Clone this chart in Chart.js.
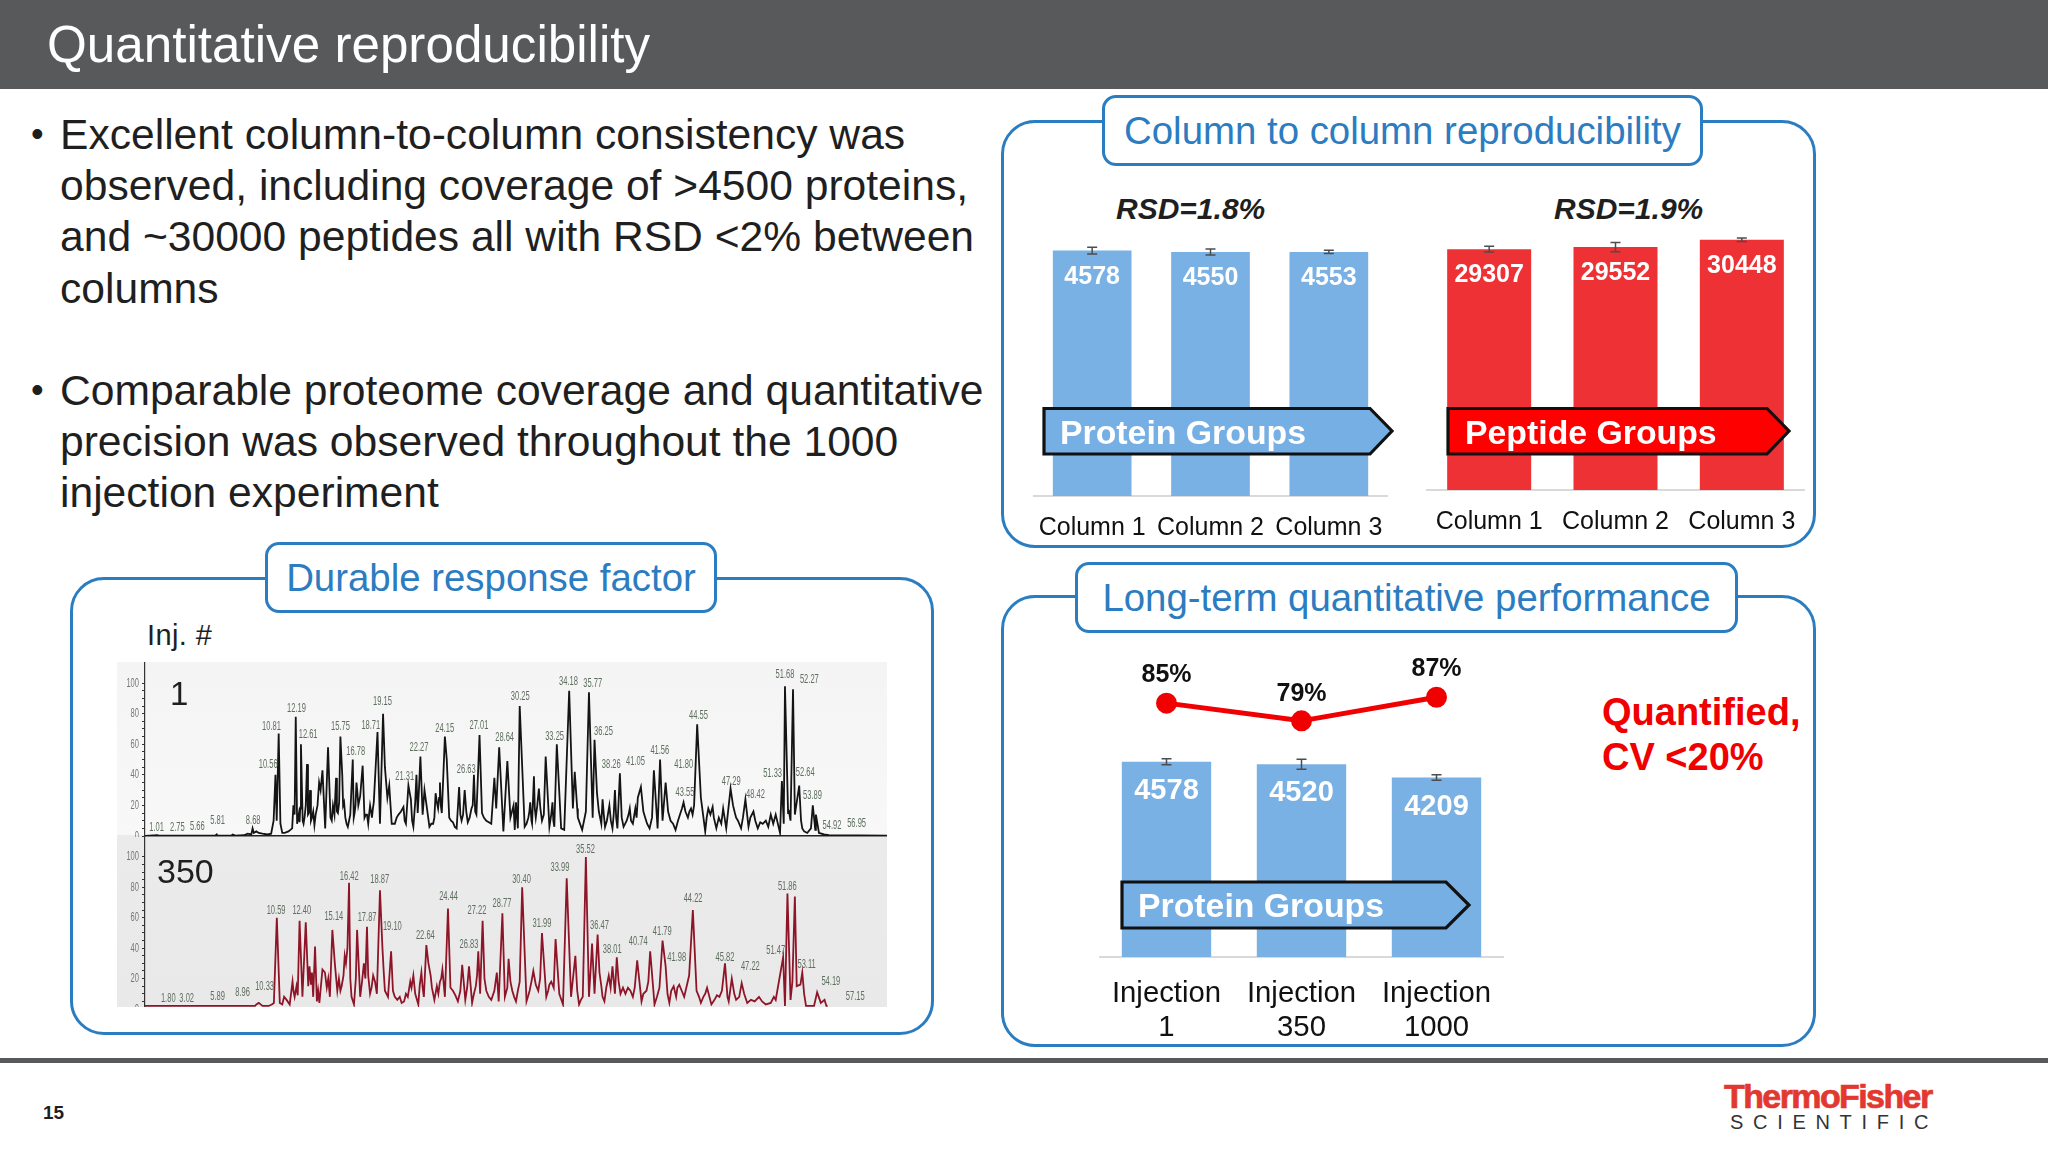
<!DOCTYPE html>
<html>
<head>
<meta charset="utf-8">
<script src="https://cdn.jsdelivr.net/npm/chart.js@4"></script>
<style>
  html, body { margin: 0; padding: 0; background: #fff; }
  #page { position: relative; width: 2048px; height: 1152px; overflow: hidden; background: #fff; font-family: "Liberation Sans", Arial, sans-serif; color: #1f1f1f; }
  #page > * { position: absolute; }
  .txt { white-space: nowrap; line-height: 1; transform: translateY(-50%); }
  .panel { box-sizing: border-box; border: 3px solid #2b7dc2; border-radius: 34px; background: #fff; }
  .tbox { box-sizing: border-box; border: 3px solid #2b7dc2; border-radius: 14px; background: #fff; color: #2b7cc0; display: flex; align-items: center; justify-content: center; white-space: nowrap; font-size: 38.4px; padding-top: 1px; }
  .bullet { font-size: 42.6px; }
  .dot { font-size: 36px; }
  .arrowText { color: #fff; font-weight: bold; font-size: 33.8px; }
  canvas { display: block; }
</style>
</head>
<body>
<div id="page">
  <div style="left:0;top:0;width:2048px;height:89px;background:#58595b"></div>
  <div class="txt" style="left:47px;top:45px;font-size:51.2px;color:#fff">Quantitative reproducibility</div>

  <div class="txt dot" style="left:31px;top:134px">•</div>
  <div class="txt bullet" style="left:60px;top:134px">Excellent column-to-column consistency was</div>
  <div class="txt bullet" style="left:60px;top:185px">observed, including coverage of &gt;4500 proteins,</div>
  <div class="txt bullet" style="left:60px;top:236px">and ~30000 peptides all with RSD &lt;2% between</div>
  <div class="txt bullet" style="left:60px;top:288px">columns</div>
  <div class="txt dot" style="left:31px;top:390px">•</div>
  <div class="txt bullet" style="left:60px;top:390px">Comparable proteome coverage and quantitative</div>
  <div class="txt bullet" style="left:60px;top:441px">precision was observed throughout the 1000</div>
  <div class="txt bullet" style="left:60px;top:492px">injection experiment</div>

  <!-- left panel -->
  <div class="panel" style="left:70px;top:577px;width:864px;height:458px"></div>
  <div class="tbox" style="left:265px;top:542px;width:452px;height:71px">Durable response factor</div>
  <div class="txt" style="left:147px;top:635px;font-size:29px;letter-spacing:0.4px">Inj. #</div>
  <div id="chromBg" style="left:117px;top:662px;width:770px;height:345px;background:linear-gradient(#f4f4f4 0,#f8f8f8 173px,#ebebec 173px,#e9e9ea 100%)"></div>
  <div style="left:117px;top:662px;width:770px;height:175px;overflow:hidden"><canvas id="chromTop" width="770" height="175" style="filter:blur(0.45px)"></canvas></div>
  <div style="left:117px;top:835px;width:770px;height:172px;overflow:hidden"><canvas id="chromBottom" width="770" height="176" style="filter:blur(0.45px)"></canvas></div>
  <div class="txt" style="left:170px;top:693px;font-size:33px">1</div>
  <div class="txt" style="left:157px;top:871px;font-size:34px">350</div>

  <!-- column to column -->
  <div class="panel" style="left:1001px;top:120px;width:815px;height:428px"></div>
  <div class="tbox" style="left:1102px;top:95px;width:601px;height:71px">Column to column reproducibility</div>
  <div class="txt" style="left:1116px;top:209px;font-size:30px;font-weight:bold;font-style:italic">RSD=1.8%</div>
  <div class="txt" style="left:1554px;top:209px;font-size:30px;font-weight:bold;font-style:italic">RSD=1.9%</div>
  <canvas id="proteinChart" width="355" height="320" style="left:1033px;top:228px"></canvas>
  <canvas id="peptideChart" width="379" height="320" style="left:1426px;top:227px"></canvas>
  <svg style="left:1040px;top:404px" width="760" height="54">
    <polygon points="4,4.5 330,4.5 352,27 330,50 4,50" fill="#76afe3" stroke="#111" stroke-width="3.2"/>
    <polygon points="408,4.5 727,4.5 749,27 727,50 408,50" fill="#ff0000" stroke="#111" stroke-width="3.2"/>
  </svg>
  <div class="txt arrowText" style="left:1060px;top:433px">Protein Groups</div>
  <div class="txt arrowText" style="left:1465px;top:433px">Peptide Groups</div>

  <!-- long term -->
  <div class="panel" style="left:1001px;top:595px;width:815px;height:452px"></div>
  <div class="tbox" style="left:1075px;top:562px;width:663px;height:71px">Long-term quantitative performance</div>
  <canvas id="longTermChart" width="405" height="400" style="left:1099px;top:650px"></canvas>
  <svg style="left:1118px;top:878px" width="356" height="54">
    <polygon points="4,4 328,4 351,27 328,50 4,50" fill="#76afe3" stroke="#111" stroke-width="3.2"/>
  </svg>
  <div class="txt arrowText" style="left:1138px;top:906px">Protein Groups</div>
  <div class="txt" style="left:1602px;top:712px;font-size:38px;font-weight:bold;color:#f00000">Quantified,</div>
  <div class="txt" style="left:1602px;top:757px;font-size:38px;font-weight:bold;color:#f00000">CV &lt;20%</div>

  <!-- footer -->
  <div style="left:0;top:1058px;width:2048px;height:5px;background:#58595b"></div>
  <div class="txt" style="left:43px;top:1112px;font-size:19px;font-weight:bold">15</div>
  <div class="txt" style="left:1724px;top:1096px;font-size:34px;font-weight:bold;color:#e2382f;letter-spacing:-1.6px;-webkit-text-stroke:0.7px #e2382f">ThermoFisher</div>
  <div class="txt" style="left:1730px;top:1122px;font-size:20px;color:#333;letter-spacing:9.7px">SCIENTIFIC</div>
</div>

<script>
// bar chart values
const columnLabels = ['Column 1', 'Column 2', 'Column 3'];
const proteinGroups = [4578, 4550, 4553];
const proteinErrors = [62, 56, 30];
const peptideGroups = [29307, 29552, 30448];
const peptideErrors = [340, 550, 220];

const injectionLabels = [['Injection', '1'], ['Injection', '350'], ['Injection', '1000']];
const injectionGroups = [4578, 4520, 4209];
const injectionErrors = [70, 117, 66];
const quantifiedPercent = [85, 79, 87];

// chromatogram, injection 1 (retention time, relative abundance)
const topTimes = [0, 1.0, 1.1, 2.7, 5.7, 5.8, 5.85, 7.0, 7.1, 7.3, 8.0, 8.3, 8.6, 8.7, 8.8, 9.0, 9.2, 9.5, 9.9, 10.2, 10.4, 10.55, 10.65, 10.81, 10.95, 11.1, 11.3, 11.6, 11.9, 12.0, 12.1, 12.19, 12.3, 12.45, 12.61, 12.75, 12.9, 13.1, 13.25, 13.35, 13.5, 13.8, 14.08, 14.2, 14.35, 14.57, 14.8, 15.0, 15.2, 15.45, 15.6, 15.8, 15.95, 16.1, 16.3, 16.5, 16.8, 16.95, 17.1, 17.25, 17.6, 17.85, 18.05, 18.2, 18.35, 18.5, 18.8, 19.0, 19.25, 19.4, 19.6, 19.75, 19.95, 20.2, 20.5, 20.9, 21.1, 21.3, 21.5, 21.7, 21.95, 22.05, 22.27, 22.45, 22.6, 22.8, 23.0, 23.3, 23.5, 23.7, 23.85, 24.0, 24.25, 24.4, 24.6, 24.9, 25.2, 25.4, 25.6, 25.85, 26.1, 26.4, 26.6, 26.8, 27.05, 27.25, 27.6, 28.0, 28.25, 28.4, 28.64, 28.98, 29.3, 29.55, 29.8, 29.9, 30.0, 30.15, 30.3, 30.7, 31.0, 31.15, 31.3, 31.45, 31.6, 31.85, 32.1, 32.4, 32.7, 32.95, 33.1, 33.3, 33.65, 33.9, 34.3, 34.6, 34.75, 35.0, 35.35, 35.65, 35.9, 36.2, 36.35, 36.55, 36.9, 37.0, 37.2, 37.55, 37.8, 38.0, 38.2, 38.4, 38.7, 39.2, 39.45, 39.85, 40.1, 40.45, 40.8, 41.15, 41.45, 41.65, 41.85, 42.1, 42.5, 42.9, 43.3, 43.55, 43.9, 44.15, 44.4, 44.65, 44.95, 45.3, 45.55, 45.9, 46.2, 46.75, 47.0, 47.35, 47.8, 48.2, 48.55, 48.8, 49.2, 49.55, 49.95, 50.6, 51.0, 51.35, 51.5, 51.65, 51.75, 52.0, 52.2, 52.4, 52.55, 52.7, 52.9, 53.15, 53.55, 53.85, 54.0, 54.2, 54.25, 54.5, 54.9, 55.3, 60];
const topAbundance = [0, 0.5, 0.2, 0.2, 0.3, 1, 0.3, 0.3, 1, 0.3, 0.5, 1.5, 1, 5, 2, 3, 2, 1.5, 1, 1.5, 10, 40, 10, 67, 8, 2, 2, 3, 5, 20, 14, 78, 8, 15, 60, 10, 12, 47, 15, 30, 12, 14, 35, 30, 43, 5, 58, 12, 20, 38, 15, 65, 40, 22, 8, 10, 50, 15, 35, 20, 46, 14, 8, 20, 12, 22, 68, 8, 80, 45, 25, 33, 8, 8, 14, 19, 8, 33, 24, 6, 40, 15, 52, 14, 30, 18, 6, 8, 28, 18, 35, 15, 65, 50, 12, 9, 5, 32, 10, 30, 9, 18, 40, 14, 66, 15, 10, 8, 38, 18, 58, 3, 49, 12, 20, 4, 22, 5, 85, 6, 12, 22, 8, 39, 12, 31, 10, 52, 6, 22, 6, 60, 5, 4, 95, 18, 42, 12, 4, 16, 94, 12, 63, 28, 8, 24, 6, 20, 5, 30, 5, 41, 6, 18, 8, 25, 32, 12, 5, 43, 5, 50, 10, 35, 10, 4, 15, 22, 12, 18, 20, 73, 25, 3, 18, 19, 5, 18, 5, 31, 12, 5, 24, 6, 16, 5, 8, 14, 14, 2, 36, 8, 98, 15, 10, 96, 14, 22, 33, 5, 2, 5, 20, 4, 14, 2, 1, 0.5, 0.3];
// the small wiggles between the main peaks
const topDetailTimes = [12.5, 12.55, 12.82, 13.0, 13.18, 13.42, 13.6, 13.7, 13.95, 15.1, 15.32, 15.52, 15.7, 16.02, 16.2, 16.4, 16.6, 16.88, 17.02, 17.18, 17.4, 17.75, 17.95, 18.12, 18.28, 18.43, 20.35, 20.7, 21.0, 21.6, 21.85, 22.15, 22.9, 23.15, 23.4, 23.6, 23.78, 23.92, 24.75, 25.05, 25.5, 25.72, 25.98, 26.25, 26.5, 26.7, 27.4, 27.8, 28.1, 30.85, 31.08, 31.25, 31.52, 31.72, 31.97, 32.25, 32.85, 33.02, 34.95, 36.7, 37.1, 37.35, 37.67, 37.9, 38.1, 38.55, 38.95, 39.1, 39.3, 39.65, 39.75, 40.3, 40.6, 41.0, 42.3, 42.7, 43.1, 43.42, 43.7, 44.02, 44.28, 45.42, 45.72, 46.0, 46.4, 46.6, 47.55, 47.7, 47.95, 48.35, 48.95, 49.35, 49.75, 50.2, 50.4, 50.8, 52.05, 53.05, 53.3];
const topDetailAbundance = [9, 18, 8, 20, 14, 10, 16, 7, 20, 10, 14, 16, 22, 20, 12, 6, 14, 12, 20, 28, 26, 12, 14, 14, 16, 18, 12, 16, 10, 10, 22, 30, 12, 8, 12, 22, 25, 20, 10, 6, 14, 14, 16, 12, 20, 16, 12, 9, 20, 8, 16, 10, 18, 20, 18, 14, 14, 10, 18, 16, 14, 10, 10, 14, 12, 12, 10, 14, 10, 18, 12, 16, 8, 12, 16, 8, 10, 18, 16, 16, 14, 12, 14, 12, 12, 8, 20, 15, 10, 12, 12, 10, 9, 10, 6, 8, 17, 10, 3];
const topPeakLabels = ['1.01', '2.75', '5.66', '5.81', '8.68', '10.56', '10.81', '12.19', '12.61', '15.75', '16.78', '18.71', '19.15', '21.31', '22.27', '24.15', '26.63', '27.01', '28.64', '30.25', '33.25', '34.18', '35.77', '36.25', '38.26', '41.05', '41.56', '41.80', '43.55', '44.55', '47.29', '48.42', '51.33', '51.68', '52.27', '52.64', '53.89', '54.92', '56.95'];
const topLabelTimes = [0.94, 2.61, 4.23, 5.87, 8.75, 9.96, 10.23, 12.25, 13.19, 15.8, 17.04, 18.26, 19.2, 21.0, 22.16, 24.23, 25.98, 27, 29.08, 30.34, 33.12, 34.25, 36.21, 37.08, 37.7, 39.66, 41.63, 43.56, 43.67, 44.75, 47.41, 49.36, 50.75, 51.75, 53.72, 53.39, 53.97, 55.55, 57.54];
const topLabelHeights = [5.9, 5.9, 6.1, 9.9, 10.5, 46.5, 71.9, 83.3, 66.2, 71.5, 55.3, 72, 88.1, 39.1, 57.7, 70.4, 43.8, 72, 64.2, 91.4, 65.4, 100.9, 99.8, 68.6, 46.7, 48.9, 55.9, 46.9, 28.3, 78.9, 35.9, 27.2, 40.8, 105.7, 102.4, 41.9, 26.7, 7, 8.1];

// chromatogram, injection 350
const bottomTimes = [0, 5.9, 8.9, 9.0, 9.2, 9.5, 10.0, 10.25, 10.42, 10.66, 10.9, 11.45, 11.7, 11.93, 12.1, 12.25, 12.5, 12.73, 13.0, 13.2, 13.3, 13.6, 13.75, 13.9, 14.1, 14.35, 14.55, 14.95, 15.15, 15.35, 15.55, 15.9, 16.15, 16.37, 16.5, 16.7, 16.9, 17.15, 17.4, 17.7, 17.95, 18.2, 18.45, 18.75, 19.0, 19.2, 19.4, 19.65, 19.9, 20.2, 20.75, 21.25, 21.7, 22.1, 22.35, 22.55, 22.75, 23.1, 23.4, 23.85, 24.05, 24.25, 24.5, 24.9, 25.3, 25.65, 25.9, 26.2, 26.45, 26.75, 26.95, 27.1, 27.3, 27.6, 28.0, 28.45, 28.6, 28.9, 29.1, 29.4, 29.7, 30.0, 30.3, 30.5, 30.85, 31.1, 31.4, 31.8, 32.1, 32.45, 32.85, 33.2, 33.5, 33.8, 34.1, 34.45, 34.8, 35.1, 35.4, 35.65, 35.9, 36.15, 36.35, 36.6, 36.9, 37.15, 37.5, 37.8, 38.0, 38.15, 38.45, 39.05, 39.45, 39.8, 40.15, 40.55, 40.85, 41.2, 41.6, 41.85, 42.1, 42.4, 42.75, 43.2, 43.6, 44.0, 44.3, 44.6, 44.95, 45.45, 45.8, 46.45, 46.9, 47.2, 47.45, 47.8, 48.25, 48.7, 49.65, 50.2, 51.0, 51.6, 51.75, 51.95, 52.2, 52.55, 52.7, 53.15, 53.45, 54.1, 54.35, 54.65, 54.95, 55.1, 55.2];
const bottomAbundance = [2, 2, 2, 3, 4, 2, 2, 3, 4, 60, 4, 6, 3, 18, 8, 15, 58, 8, 57, 15, 28, 8, 41, 5, 4, 26, 24, 8, 52, 30, 12, 15, 35, 40, 83, 8, 3, 52, 8, 30, 54, 10, 22, 10, 78, 40, 12, 8, 38, 8, 4, 8, 22, 3, 24, 8, 42, 22, 6, 18, 26, 8, 66, 12, 5, 29, 6, 28, 4, 15, 38, 10, 58, 12, 6, 24, 5, 63, 8, 33, 12, 5, 18, 80, 5, 12, 25, 12, 50, 8, 18, 46, 10, 3, 86, 8, 35, 3, 8, 100, 8, 43, 10, 49, 15, 5, 22, 28, 10, 34, 10, 14, 8, 32, 5, 12, 38, 3, 14, 45, 28, 4, 15, 16, 8, 22, 65, 12, 4, 14, 3, 8, 30, 5, 20, 6, 17, 4, 8, 3, 6, 34, 2, 76, 6, 74, 15, 24, 2, 2, 11, 4, 6, 2, 2];
const bottomDetailTimes = [11.1, 11.25, 12.0, 12.35, 13.42, 13.5, 14.0, 14.7, 14.82, 15.68, 15.8, 16.05, 16.25, 16.6, 17.05, 17.55, 17.82, 18.05, 18.32, 18.6, 19.3, 20.05, 20.4, 20.6, 20.95, 21.1, 21.45, 21.55, 21.85, 22.22, 22.45, 22.92, 23.2, 23.6, 23.72, 23.95, 24.7, 25.1, 25.5, 26.05, 26.6, 26.85, 27.45, 27.8, 28.25, 29.3, 29.55, 29.85, 30.15, 31.0, 31.25, 31.6, 31.95, 32.6, 32.7, 33.05, 34.95, 35.25, 36.05, 36.75, 37.0, 37.3, 37.65, 38.3, 38.65, 38.85, 39.25, 39.6, 40.3, 40.7, 41.4, 42.25, 42.55, 42.95, 43.05, 43.4, 43.8, 44.8, 45.15, 45.3, 46.05, 46.25, 46.65, 47.1, 47.65, 48.05, 48.45, 49.0, 49.3, 49.9, 50.6, 50.85, 52.35, 53.0, 53.3];
const bottomDetailAbundance = [3, 8, 12, 9, 16, 24, 12, 14, 20, 20, 12, 22, 30, 20, 20, 18, 20, 22, 14, 18, 25, 12, 6, 8, 5, 10, 18, 14, 10, 16, 14, 30, 14, 15, 10, 20, 14, 9, 12, 14, 10, 22, 20, 8, 12, 14, 18, 8, 12, 9, 18, 16, 20, 12, 16, 14, 12, 6, 28, 24, 8, 14, 14, 18, 14, 10, 12, 14, 10, 18, 8, 10, 12, 8, 14, 12, 15, 8, 8, 10, 6, 9, 12, 8, 10, 8, 10, 6, 5, 5, 4, 8, 18, 16, 10];
const bottomPeakLabels = ['1.80', '3.02', '5.89', '8.96', '10.33', '10.59', '12.40', '15.14', '16.42', '17.87', '18.87', '19.10', '22.64', '24.44', '26.83', '27.22', '28.77', '30.40', '31.99', '33.99', '35.52', '36.47', '38.01', '40.74', '41.79', '41.98', '44.22', '45.82', '47.22', '51.47', '51.86', '53.11', '54.19', '57.15'];
const bottomLabelTimes = [1.88, 3.37, 5.87, 7.89, 9.67, 10.6, 12.68, 15.27, 16.51, 17.96, 18.98, 20.0, 22.67, 24.55, 26.2, 26.84, 28.87, 30.45, 32.1, 33.55, 35.62, 36.75, 37.78, 39.88, 41.82, 43, 44.32, 46.9, 48.95, 51, 51.94, 53.5, 55.46, 57.43];
const bottomLabelHeights = [7.2, 7.2, 8.1, 11.2, 14.7, 65, 64.6, 60.9, 87.3, 60.2, 85.5, 54.4, 48.7, 73.9, 42.5, 64.6, 69.7, 85.5, 56.1, 93.2, 105.2, 55.2, 39, 44.3, 51, 33.9, 72.9, 34.2, 27.7, 38.6, 80.7, 29.1, 18.2, 8.2];

const blueBar = '#79b1e4';
const redBar = '#ee3135';

// error whiskers and the numbers inside the bars
const barExtras = {
  id: 'barExtras',
  afterDatasetsDraw(chart, args, opts) {
    const ctx = chart.ctx;
    const y = chart.scales.y;
    const bars = chart.getDatasetMeta(0).data;
    ctx.save();
    bars.forEach((bar, i) => {
      const v = chart.data.datasets[0].data[i];
      const top = y.getPixelForValue(v + opts.errors[i]);
      const bottom = y.getPixelForValue(v - opts.errors[i]);
      ctx.strokeStyle = '#4d4d4d';
      ctx.lineWidth = 1.5;
      ctx.beginPath();
      ctx.moveTo(bar.x, top); ctx.lineTo(bar.x, bottom);
      ctx.moveTo(bar.x - 5, top); ctx.lineTo(bar.x + 5, top);
      ctx.moveTo(bar.x - 5, bottom); ctx.lineTo(bar.x + 5, bottom);
      ctx.stroke();
      ctx.fillStyle = '#fff';
      ctx.font = 'bold ' + opts.fontSize + 'px "Liberation Sans"';
      ctx.textAlign = 'center';
      ctx.textBaseline = 'middle';
      ctx.fillText(String(v), bar.x, bar.y + opts.offset);
    });
    ctx.restore();
  }
};

// percent labels over the red line
const lineLabels = {
  id: 'lineLabels',
  afterDatasetsDraw(chart) {
    const ctx = chart.ctx;
    const meta = chart.getDatasetMeta(1);
    const rise = [28, 27, 28];
    ctx.save();
    ctx.fillStyle = '#111';
    ctx.font = 'bold 25px "Liberation Sans"';
    ctx.textAlign = 'center';
    ctx.textBaseline = 'middle';
    meta.data.forEach((p, i) => ctx.fillText(quantifiedPercent[i] + '%', p.x, p.y - rise[i]));
    ctx.restore();
  }
};

// narrow text, the instrument labels are squeezed sideways
function narrowText(ctx, text, x, y, size) {
  ctx.save();
  ctx.translate(x, y);
  ctx.scale(0.58, 1);
  ctx.font = size + 'px "Liberation Sans"';
  ctx.fillText(text, 0, 0);
  ctx.restore();
}

// retention time labels and the y tick numbers on the chromatograms
const peakLabels = {
  id: 'peakLabels',
  afterDatasetsDraw(chart, args, opts) {
    const ctx = chart.ctx;
    const x = chart.scales.x;
    const y = chart.scales.y;
    ctx.save();
    ctx.fillStyle = '#5f6f5f';
    ctx.textAlign = 'center';
    ctx.textBaseline = 'middle';
    opts.labels.forEach((text, i) => {
      narrowText(ctx, text, x.getPixelForValue(opts.times[i]), y.getPixelForValue(opts.heights[i]), 13);
    });
    ctx.fillStyle = '#777';
    ctx.textAlign = 'right';
    y.ticks.filter(t => t.value % 20 === 0).forEach(t => {
      narrowText(ctx, String(t.value), y.left + 22, y.getPixelForValue(t.value), 13);
    });
    ctx.restore();
  }
};

function barOptions(tickSize, tickPad, axisHeight, yMax, extras) {
  return {
    responsive: false,
    animation: false,
    layout: { padding: 0, autoPadding: false },
    plugins: { legend: { display: false }, tooltip: { enabled: false }, barExtras: extras },
    scales: {
      x: {
        afterFit: s => { s.height = axisHeight; s.paddingLeft = 0; s.paddingRight = 0; },
        grid: { display: false },
        border: { color: '#d9d9d9', width: 2 },
        ticks: { color: '#111', font: { family: 'Liberation Sans', size: tickSize, lineHeight: 1.15 }, padding: tickPad, maxRotation: 0, autoSkip: false }
      },
      y: { display: false, min: 0, max: yMax }
    }
  };
}

new Chart(document.getElementById('proteinChart'), {
  type: 'bar',
  data: { labels: columnLabels, datasets: [{ data: proteinGroups, backgroundColor: blueBar, barPercentage: 0.665, categoryPercentage: 1 }] },
  options: barOptions(25, 9.5, 52, 5000, { errors: proteinErrors, fontSize: 25, offset: 26 }),
  plugins: [barExtras]
});

new Chart(document.getElementById('peptideChart'), {
  type: 'bar',
  data: { labels: columnLabels, datasets: [{ data: peptideGroups, backgroundColor: redBar, barPercentage: 0.665, categoryPercentage: 1 }] },
  options: barOptions(25, 9.5, 57, 32000, { errors: peptideErrors, fontSize: 25, offset: 26 }),
  plugins: [barExtras]
});

const longOptions = barOptions(29.3, 12.5, 93, 7200, { errors: injectionErrors, fontSize: 29, offset: 29 });
longOptions.scales.y1 = { display: false, min: -1, max: 103 };
new Chart(document.getElementById('longTermChart'), {
  data: {
    labels: injectionLabels,
    datasets: [
      { type: 'bar', data: injectionGroups, backgroundColor: blueBar, barPercentage: 0.662, categoryPercentage: 1, yAxisID: 'y', order: 2 },
      { type: 'line', data: quantifiedPercent, borderColor: '#f00000', backgroundColor: '#f00000', borderWidth: 5, pointRadius: 8, tension: 0, yAxisID: 'y1', order: 1, clip: false }
    ]
  },
  options: longOptions,
  plugins: [barExtras, lineLabels]
});

function chromatogram(id, times, values, detailTimes, detailValues, color, yMax, peaks, showZeroLine) {
  const points = times.map((t, i) => ({ x: t, y: values[i] }))
    .concat(detailTimes.map((t, i) => ({ x: t, y: detailValues[i] })))
    .sort((a, b) => a.x - b.x);
  new Chart(document.getElementById(id), {
    type: 'line',
    data: { datasets: [{ data: points, borderColor: color, borderWidth: 1.8, pointRadius: 0, tension: 0 }] },
    options: {
      responsive: false,
      animation: false,
      layout: { padding: { bottom: showZeroLine ? 1 : 2 }, autoPadding: false },
      plugins: { legend: { display: false }, tooltip: { enabled: false }, peakLabels: peaks },
      scales: {
        x: {
          type: 'linear', min: 0, max: 60,
          afterFit: s => { s.height = 0; s.paddingLeft = 0; s.paddingRight = 0; },
          grid: { display: false },
          border: { display: showZeroLine, color: '#222', width: 1.5 },
          ticks: { display: false }
        },
        y: {
          min: 0, max: yMax,
          afterFit: s => { s.width = 28; s.paddingTop = 0; s.paddingBottom = 0; },
          afterBuildTicks: s => { s.ticks = s.ticks.filter(t => t.value <= 100); },
          grid: { drawOnChartArea: false, tickLength: 3, color: '#333' },
          border: { color: '#333', width: 1.2 },
          ticks: { stepSize: 5, autoSkip: false, display: false }
        }
      }
    },
    plugins: [peakLabels]
  });
}

chromatogram('chromTop', topTimes, topAbundance, topDetailTimes, topDetailAbundance, '#141414', 113.8, { labels: topPeakLabels, times: topLabelTimes, heights: topLabelHeights }, true);
chromatogram('chromBottom', bottomTimes, bottomAbundance, bottomDetailTimes, bottomDetailAbundance, '#8e1528', 114.4, { labels: bottomPeakLabels, times: bottomLabelTimes, heights: bottomLabelHeights }, false);
</script>
</body>
</html>
